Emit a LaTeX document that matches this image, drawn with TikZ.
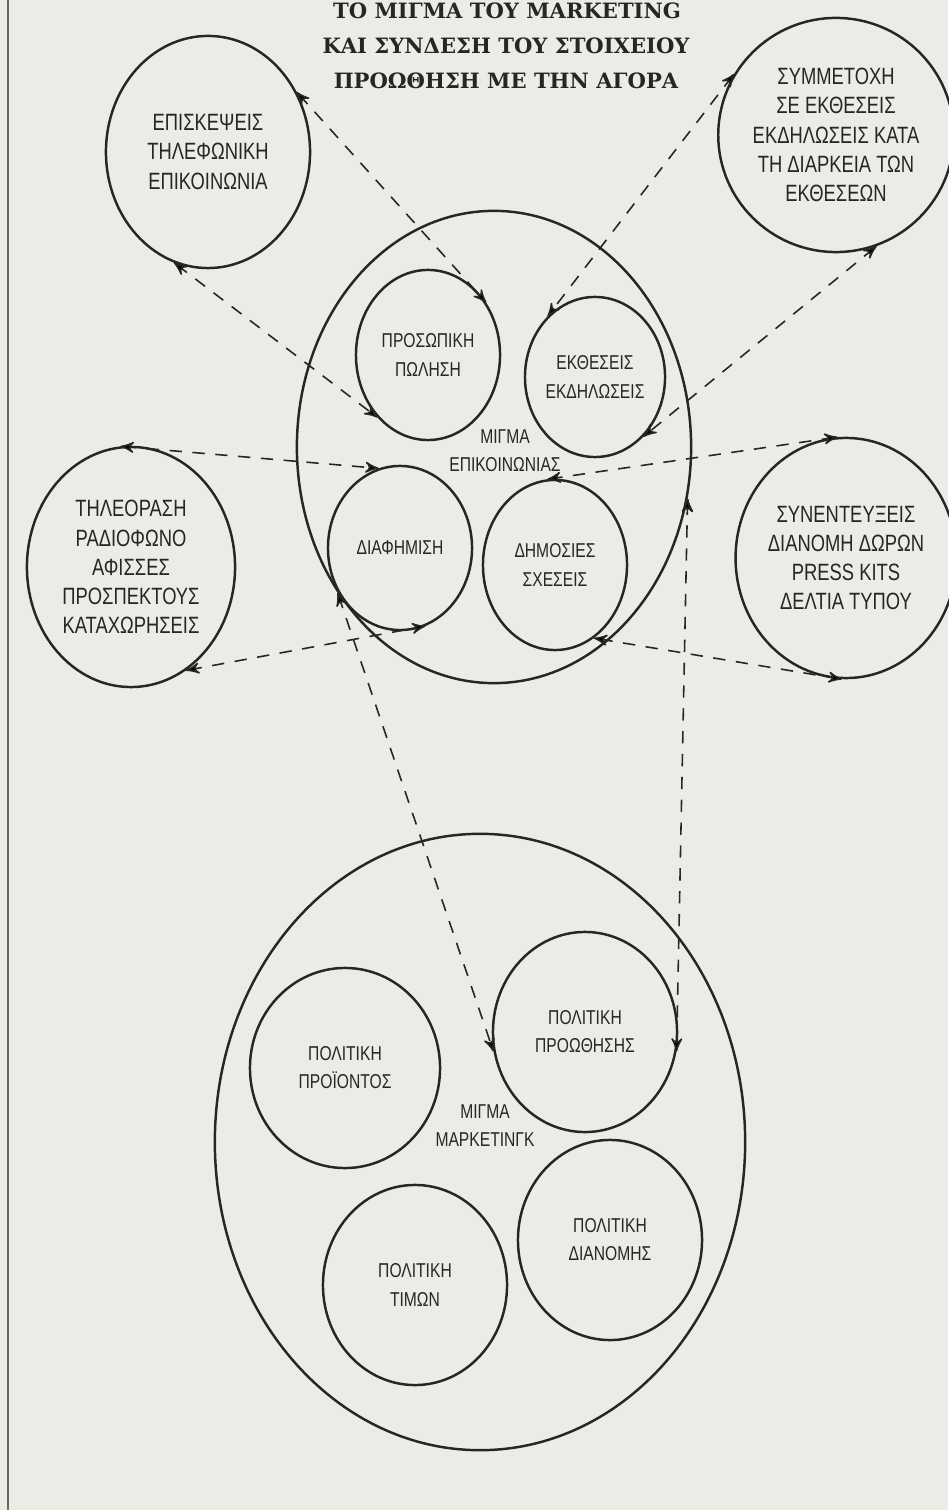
\documentclass[tikz,border=0pt]{standalone}
\usepackage{fontspec}
\newfontfamily\condsf[FakeStretch=0.78]{Liberation Sans}
\newfontfamily\headfont{DejaVu Serif}
\usetikzlibrary{shapes.geometric, arrows}

\definecolor{paper}{RGB}{236,235,230}
\definecolor{ink}{RGB}{38,38,34}

\tikzset{
    bubble/.style={ellipse, draw=ink, line width=0.7pt, inner sep=0pt, align=center, text=ink},
    dims/.style 2 args={minimum width=#1cm, minimum height=#2cm},
    bigtext/.style={font=\condsf\fontsize{6.7}{8.3}\selectfont},
    smalltext/.style={font=\condsf\fontsize{5.7}{8}\selectfont},
    heading/.style={font=\headfont\bfseries\fontsize{6.0}{7}\selectfont, text=ink},
    link/.style={<->, >=stealth', draw=ink, line width=0.45pt, dash pattern=on 3.5pt off 3pt}
}

\begin{document}
\begin{tikzpicture}[x=0.01cm, y=-0.01cm]
    \fill[paper] (0,0) rectangle (948,1510);
    \useasboundingbox (0,0) rectangle (948,1510);
    \draw[ink!70, line width=0.4pt] (8,0) -- (8,1510);

    % Title
    \node[heading] (head1) at (507,11) {ΤΟ ΜΙΓΜΑ ΤΟΥ MARKETING};
    \node[heading] (head2) at (506,46) {ΚΑΙ ΣΥΝΔΕΣΗ ΤΟΥ ΣΤΟΙΧΕΙΟΥ};
    \node[heading] (head3) at (506,81) {ΠΡΟΩΘΗΣΗ ΜΕ ΤΗΝ ΑΓΟΡΑ};

    % Outer circles
    \node[bubble, bigtext, dims={2.04}{2.32}] (visit) at (208,152) {ΕΠΙΣΚΕΨΕΙΣ\\ΤΗΛΕΦΩΝΙΚΗ\\ΕΠΙΚΟΙΝΩΝΙΑ};
    \node[bubble, bigtext, dims={2.08}{2.34}] (fairs) at (836,135) {ΣΥΜΜΕΤΟΧΗ\\ΣΕ ΕΚΘΕΣΕΙΣ\\ΕΚΔΗΛΩΣΕΙΣ ΚΑΤΑ\\ΤΗ ΔΙΑΡΚΕΙΑ ΤΩΝ\\ΕΚΘΕΣΕΩΝ};
    \node[bubble, bigtext, dims={2.08}{2.40}] (media) at (131,567) {ΤΗΛΕΟΡΑΣΗ\\ΡΑΔΙΟΦΩΝΟ\\ΑΦΙΣΣΕΣ\\ΠΡΟΣΠΕΚΤΟΥΣ\\ΚΑΤΑΧΩΡΗΣΕΙΣ};
    \node[bubble, bigtext, dims={2.02}{2.40}] (press) at (846,558) {ΣΥΝΕΝΤΕΥΞΕΙΣ\\ΔΙΑΝΟΜΗ ΔΩΡΩΝ\\PRESS KITS\\ΔΕΛΤΙΑ ΤΥΠΟΥ};

    % Communication mix
    \node[bubble, dims={3.94}{4.72}] (commix) at (494,447) {};
    \node[smalltext, text=ink, align=center] (commixlabel) at (505,451) {ΜΙΓΜΑ\\ΕΠΙΚΟΙΝΩΝΙΑΣ};
    \node[bubble, smalltext, dims={1.44}{1.70}] (sale) at (428,355) {ΠΡΟΣΩΠΙΚΗ\\ΠΩΛΗΣΗ};
    \node[bubble, smalltext, dims={1.40}{1.60}] (expo) at (595,377) {ΕΚΘΕΣΕΙΣ\\ΕΚΔΗΛΩΣΕΙΣ};
    \node[bubble, smalltext, dims={1.44}{1.64}] (advert) at (400,548) {ΔΙΑΦΗΜΙΣΗ};
    \node[bubble, smalltext, dims={1.44}{1.70}] (pr) at (555,565) {ΔΗΜΟΣΙΕΣ\\ΣΧΕΣΕΙΣ};

    % Marketing mix
    \node[bubble, dims={5.30}{6.16}] (mktmix) at (480,1142) {};
    \node[smalltext, text=ink, align=center] (mktlabel) at (485,1126) {ΜΙΓΜΑ\\ΜΑΡΚΕΤΙΝΓΚ};
    \node[bubble, smalltext, dims={1.90}{2.00}] (product) at (345,1068) {ΠΟΛΙΤΙΚΗ\\ΠΡΟΪΟΝΤΟΣ};
    \node[bubble, smalltext, dims={1.84}{2.00}] (promo) at (585,1032) {ΠΟΛΙΤΙΚΗ\\ΠΡΟΩΘΗΣΗΣ};
    \node[bubble, smalltext, dims={1.84}{2.00}] (place) at (610,1240) {ΠΟΛΙΤΙΚΗ\\ΔΙΑΝΟΜΗΣ};
    \node[bubble, smalltext, dims={1.84}{2.00}] (price) at (415,1285) {ΠΟΛΙΤΙΚΗ\\ΤΙΜΩΝ};

    \path[link]
    % visits -- personal selling
    (visit.34) edge (sale.42)
    (visit.-107) edge (sale.-129)

    % fairs -- exhibitions
    (fairs.149) edge (expo.128)
    (fairs.-70) edge (expo.-51)

    % media -- advertising
    (media.95) edge (advert.105)
    (media.-62) edge (advert.-72)

    % interviews -- public relations
    (press.94) edge (pr.95)
    (press.-92) edge (pr.-62)

    % communication mix -- promotion policy
    (commix.223) edge (promo.192)
    (commix.-15) edge (promo.-12);
\end{tikzpicture}
\end{document}
